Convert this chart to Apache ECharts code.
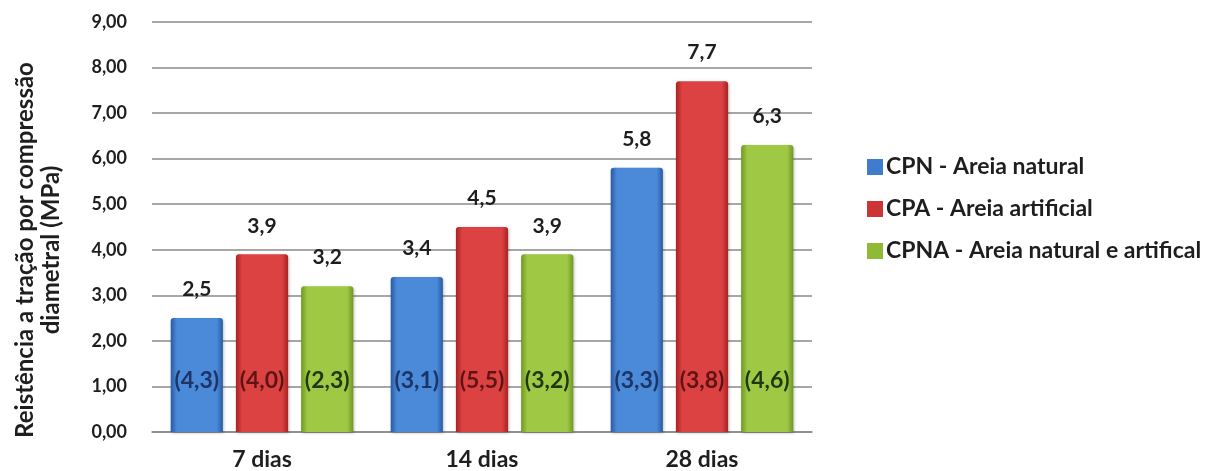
<!DOCTYPE html>
<html>
<head>
<meta charset="utf-8">
<script src="https://cdn.jsdelivr.net/npm/echarts@6/dist/echarts.min.js"></script>
<style>
  html, body { margin: 0; padding: 0; background: #ffffff; }
  #chart { width: 1214px; height: 471px; }
</style>
</head>
<body>
<div id="chart"></div>
<script>
// Idades de ensaio
const categories = ['7 dias', '14 dias', '28 dias'];
// Resistência média (MPa) por traço
const cpn = [2.5, 3.4, 5.8];
const cpa = [3.9, 4.5, 7.7];
const cpna = [3.2, 3.9, 6.3];
// Coeficientes de variação (%) mostrados dentro das barras
const cvCpn = ['4,3', '3,1', '3,3'];
const cvCpa = ['4,0', '5,5', '3,8'];
const cvCpna = ['2,3', '3,2', '4,6'];
const seriesNames = ['CPN - Areia natural', 'CPA - Areia artificial', 'CPNA - Areia natural e artifical'];
const yTicks = [0, 1, 2, 3, 4, 5, 6, 7, 8, 9];

const FONT = 'Lato, "Liberation Sans", sans-serif';
const TEXT = '#1e1e1e';

function cylinder(edge, mid) {
  return {
    type: 'linear', x: 0, y: 0, x2: 1, y2: 0,
    colorStops: [
      { offset: 0, color: edge },
      { offset: 0.12, color: mid },
      { offset: 0.5, color: mid },
      { offset: 0.88, color: mid },
      { offset: 1, color: edge }
    ]
  };
}

const palette = [
  { fill: cylinder('#2a5aa3', '#4a8ad9'), legend: '#3f7ccb', cv: '#1c3466' },
  { fill: cylinder('#a82222', '#dc4242'), legend: '#cc3535', cv: '#5e1414' },
  { fill: cylinder('#6f9822', '#9fc845'), legend: '#8fba38', cv: '#1e3810' }
];

const values = [cpn, cpa, cpna];
const cvs = [cvCpn, cvCpa, cvCpna];

const comma = (v, d) => v.toFixed(d).replace('.', ',');

const barCommon = {
  type: 'bar',
  barGap: '25%',
  barCategoryGap: '17%'
};

const series = [];
values.forEach((vals, i) => {
  series.push(Object.assign({}, barCommon, {
    name: seriesNames[i],
    xAxisIndex: 0,
    data: vals,
    itemStyle: {
      color: palette[i].fill,
      borderRadius: [3, 3, 0, 0],
      shadowColor: 'rgba(0,0,0,0.25)',
      shadowBlur: 3,
      shadowOffsetX: 1,
      shadowOffsetY: 1
    },
    label: {
      show: true,
      position: 'top',
      distance: 18,
      formatter: p => comma(p.value, 1),
      fontFamily: FONT,
      fontWeight: 'bold',
      fontSize: 21,
      color: TEXT
    }
  }));
});
// Rótulos internos com o coeficiente de variação
values.forEach((vals, i) => {
  series.push(Object.assign({}, barCommon, {
    name: seriesNames[i] + ' CV',
    xAxisIndex: 1,
    data: vals,
    silent: true,
    itemStyle: { color: 'rgba(0,0,0,0)' },
    label: {
      show: true,
      position: 'insideBottom',
      distance: 40,
      formatter: p => '(' + cvs[i][p.dataIndex] + ')',
      fontFamily: FONT,
      fontWeight: 'bold',
      fontSize: 23,
      color: palette[i].cv
    }
  }));
});

const chart = echarts.init(document.getElementById('chart'), null, { renderer: 'canvas' });
chart.setOption({
  animation: false,
  backgroundColor: '#ffffff',
  grid: { left: 152, right: 402, top: 22, bottom: 39, containLabel: false, outerBoundsMode: 'none' },
  legend: {
    orient: 'vertical',
    left: 862,
    top: 150,
    itemWidth: 16,
    itemHeight: 16,
    itemGap: 18,
    icon: 'rect',
    data: seriesNames.map((n, i) => ({ name: n, itemStyle: { color: palette[i].legend } })),
    textStyle: { fontFamily: FONT, fontWeight: 'bold', fontSize: 23, lineHeight: 24, color: TEXT, padding: [0, 0, 0, -2] }
  },
  xAxis: [
    {
      type: 'category',
      data: categories,
      axisLine: { show: true, lineStyle: { color: '#8a8a8a', width: 1.5 } },
      axisTick: { show: false },
      axisLabel: { margin: 16, fontFamily: FONT, fontWeight: 'bold', fontSize: 23, color: TEXT }
    },
    {
      type: 'category',
      data: categories,
      show: false
    }
  ],
  yAxis: {
    type: 'value',
    min: yTicks[0],
    max: yTicks[yTicks.length - 1],
    interval: 1,
    name: 'Reistência a tração por compressão\ndiametral (MPa)',
    nameLocation: 'middle',
    nameGap: 88,
    nameTextStyle: { fontFamily: FONT, fontWeight: 'bold', fontSize: 24, color: TEXT, lineHeight: 26, padding: [0, 46, 0, 0] },
    axisLine: { show: false },
    axisTick: { show: false },
    axisLabel: { margin: 25, formatter: v => comma(v, 2), fontFamily: FONT, fontWeight: 'bold', fontSize: 18, color: TEXT },
    splitLine: { show: true, lineStyle: { color: '#8a8a8a', width: 1.5 } }
  },
  series: series
});
</script>
</body>
</html>
